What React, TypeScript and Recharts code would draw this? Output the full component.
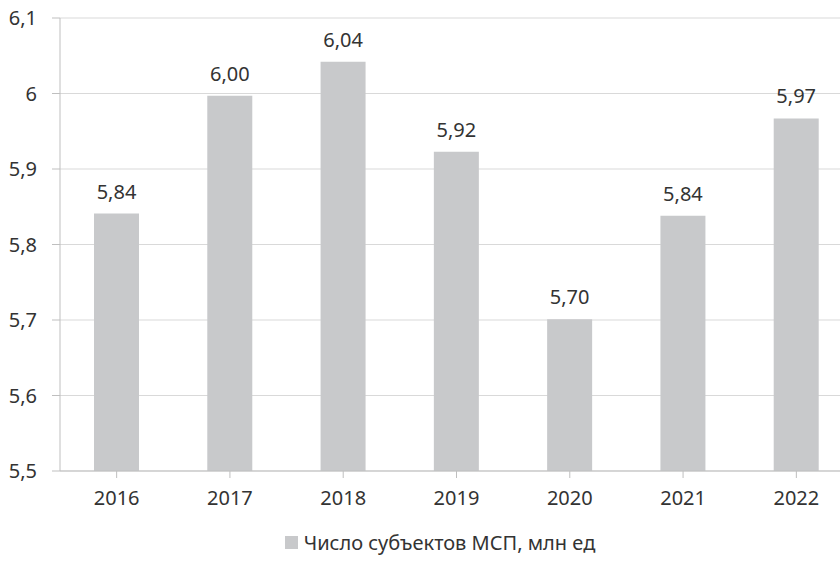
import React from 'react';
import { BarChart, Bar, XAxis, YAxis, CartesianGrid, LabelList, Legend } from 'recharts';

const years = ['2016', '2017', '2018', '2019', '2020', '2021', '2022'];
const values = [5.841, 5.997, 6.042, 5.923, 5.701, 5.838, 5.967];
const labels = ['5,84', '6,00', '6,04', '5,92', '5,70', '5,84', '5,97'];
const yTicks = [5.5, 5.6, 5.7, 5.8, 5.9, 6.0, 6.1];
const seriesName = 'Число субъектов МСП, млн ед';

const data = years.map((y, i) => ({ year: y, value: values[i], label: labels[i] }));

const FONT = '"Noto Sans", "Open Sans", sans-serif';
const TEXT = '#333333';
const BAR = '#c8c9cb';

const fmtTick = (v: number) => String(Math.round(v * 10) / 10).replace('.', ',');

const LegendContent = () => (
  <div style={{ display: 'flex', justifyContent: 'center', alignItems: 'center', fontFamily: FONT, fontSize: 20, color: TEXT }}>
    <span style={{ display: 'inline-block', width: 13, height: 13, background: BAR, marginRight: 6 }} />
    <span>{seriesName}</span>
  </div>
);

export default function App() {
  return (
    <div style={{ position: 'fixed', left: 0, top: 0, width: 840, height: 561, overflow: 'hidden', background: '#fff' }}>
      <BarChart
        width={880}
        height={561}
        data={data}
        margin={{ top: 18, right: 27, bottom: 2, left: 0 }}
        barCategoryGap="30%"
      >
        <CartesianGrid vertical={false} stroke="#d9d9d9" />
        <XAxis
          dataKey="year"
          height={58}
          tick={{ fill: TEXT, fontSize: 20, fontFamily: FONT }}
          tickSize={7}
          tickMargin={13}
          axisLine={{ stroke: '#bfbfbf' }}
          tickLine={{ stroke: '#bfbfbf' }}
          interval={0}
        />
        <YAxis
          width={60}
          domain={[5.5, 6.1]}
          ticks={yTicks}
          tickFormatter={fmtTick}
          allowDataOverflow
          tick={{ fill: TEXT, fontSize: 20, fontFamily: FONT }}
          tickSize={8}
          tickMargin={15}
          axisLine={{ stroke: '#bfbfbf' }}
          tickLine={{ stroke: '#bfbfbf' }}
        />
        <Legend
          verticalAlign="bottom"
          height={30}
          content={<LegendContent />}
          wrapperStyle={{ left: 0, width: 880 }}
        />
        <Bar dataKey="value" name={seriesName} fill={BAR} barSize={45} isAnimationActive={false}>
          <LabelList dataKey="label" position="top" offset={15} fill={TEXT} fontSize={20} fontFamily={FONT} />
        </Bar>
      </BarChart>
    </div>
  );
}
